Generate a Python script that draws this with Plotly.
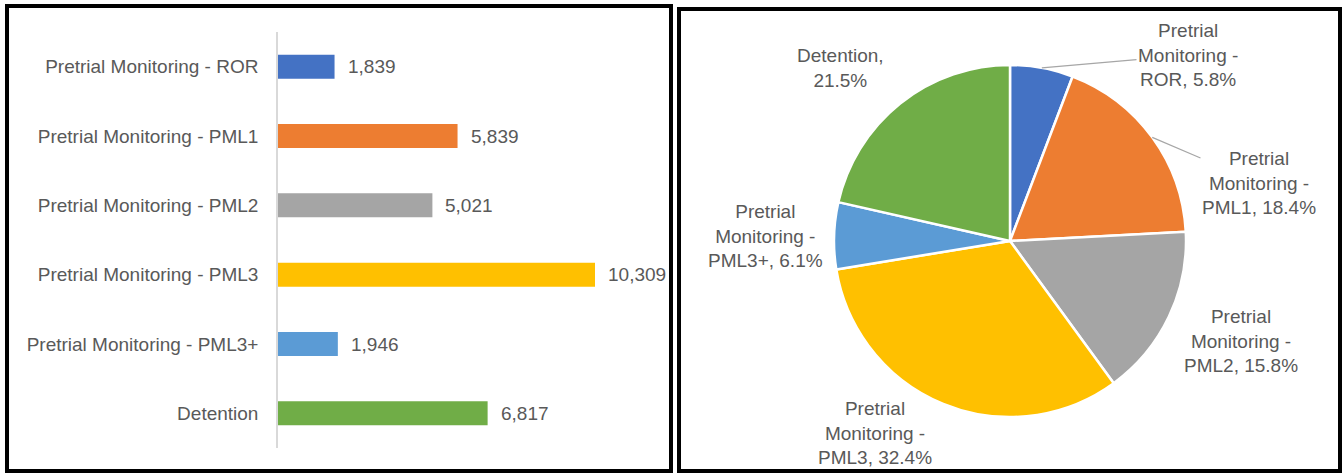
import math
import plotly.graph_objects as go

# ---------------- data ----------------
categories = [
    "Pretrial Monitoring - ROR",
    "Pretrial Monitoring - PML1",
    "Pretrial Monitoring - PML2",
    "Pretrial Monitoring - PML3",
    "Pretrial Monitoring - PML3+",
    "Detention",
]
counts = [1839, 5839, 5021, 10309, 1946, 6817]
colors = ["#4472C4", "#ED7D31", "#A5A5A5", "#FFC000", "#5B9BD5", "#70AD47"]

# ---------------- layout helpers ----------------
W, H = 1343, 473
FONT = "Liberation Sans"
TXT = "#595959"


def px(x):
    return x / W


def py(y):
    return 1 - y / H


fig = go.Figure()

# ---------- bar chart ----------
fig.add_trace(go.Bar(
    x=counts, y=categories, orientation="h",
    marker=dict(color=colors, line=dict(width=0)),
    xaxis="x", yaxis="y", showlegend=False, hoverinfo="x+y",
))
for c, v in zip(categories, counts):
    fig.add_annotation(x=v, y=c, xref="x", yref="y", text=f"{v:,}",
                       showarrow=False, xanchor="left", xshift=11,
                       font=dict(family=FONT, size=19, color=TXT))

# ---------- pie chart ----------
pie_cx, pie_cy, pie_r = 1010, 241, 176
fig.add_trace(go.Pie(
    labels=categories, values=counts, sort=False, direction="clockwise",
    rotation=0, textinfo="none", showlegend=False,
    marker=dict(colors=colors, line=dict(color="white", width=2.5)),
    domain=dict(x=[px(pie_cx - pie_r), px(pie_cx + pie_r)],
                y=[py(pie_cy + pie_r), py(pie_cy - pie_r)]),
))

total = sum(counts)
label_pos = [(1188, 55), (1259, 183), (1241, 341), (875, 433), (765, 236), (840, 68)]
leader = [True, True, False, False, False, False]
cum = 0
for name, v, (lx, ly), ld in zip(categories, counts, label_pos, leader):
    pct = 100 * v / total
    mid = 2 * math.pi * (cum + v / 2) / total
    cum += v
    if name.startswith("Pretrial Monitoring - "):
        suffix = name.split(" - ")[1]
        text = f"Pretrial<br>Monitoring -<br>{suffix}, {pct:.1f}%"
    else:
        text = f"{name},<br>{pct:.1f}%"
    f = dict(family=FONT, size=19, color=TXT)
    if ld:
        ex = pie_cx + pie_r * math.sin(mid)
        ey = pie_cy - pie_r * math.cos(mid)
        fig.add_annotation(x=px(ex), y=py(ey), xref="paper", yref="paper",
                           ax=lx - ex, ay=ly - ey, axref="pixel", ayref="pixel",
                           text=text, showarrow=True, arrowhead=0,
                           arrowcolor="#A6A6A6", arrowwidth=1.2, font=f,
                           align="center")
    else:
        fig.add_annotation(x=px(lx), y=py(ly), xref="paper", yref="paper",
                           text=text, showarrow=False, font=f, align="center",
                           xanchor="center", yanchor="middle")

# ---------- frames ----------
fig.add_shape(type="rect", xref="paper", yref="paper",
              x0=px(7), x1=px(671), y0=py(6), y1=py(471),
              line=dict(color="black", width=4))
fig.add_shape(type="rect", xref="paper", yref="paper",
              x0=px(679), x1=px(1340), y0=py(9), y1=py(471),
              line=dict(color="black", width=4))

fig.update_layout(
    width=W, height=H,
    margin=dict(l=0, r=0, t=0, b=0),
    paper_bgcolor="white", plot_bgcolor="white",
    bargap=0.654,
    font=dict(family=FONT, size=19, color=TXT),
    xaxis=dict(domain=[px(278), px(647)], range=[0, 12000],
               showgrid=False, zeroline=False, showticklabels=False,
               showline=False, fixedrange=True),
    yaxis=dict(domain=[py(448), py(32)], autorange="reversed",
               showgrid=False, zeroline=False, showline=True,
               linecolor="#D9D9D9", linewidth=1.5, ticks="",
               ticklabelstandoff=14,
               tickfont=dict(family=FONT, size=19, color=TXT)),
)

fig.write_html(
    "out.html",
    config={"displayModeBar": False},
    post_script="document.body.style.margin='0';document.body.style.overflow='hidden';",
)
